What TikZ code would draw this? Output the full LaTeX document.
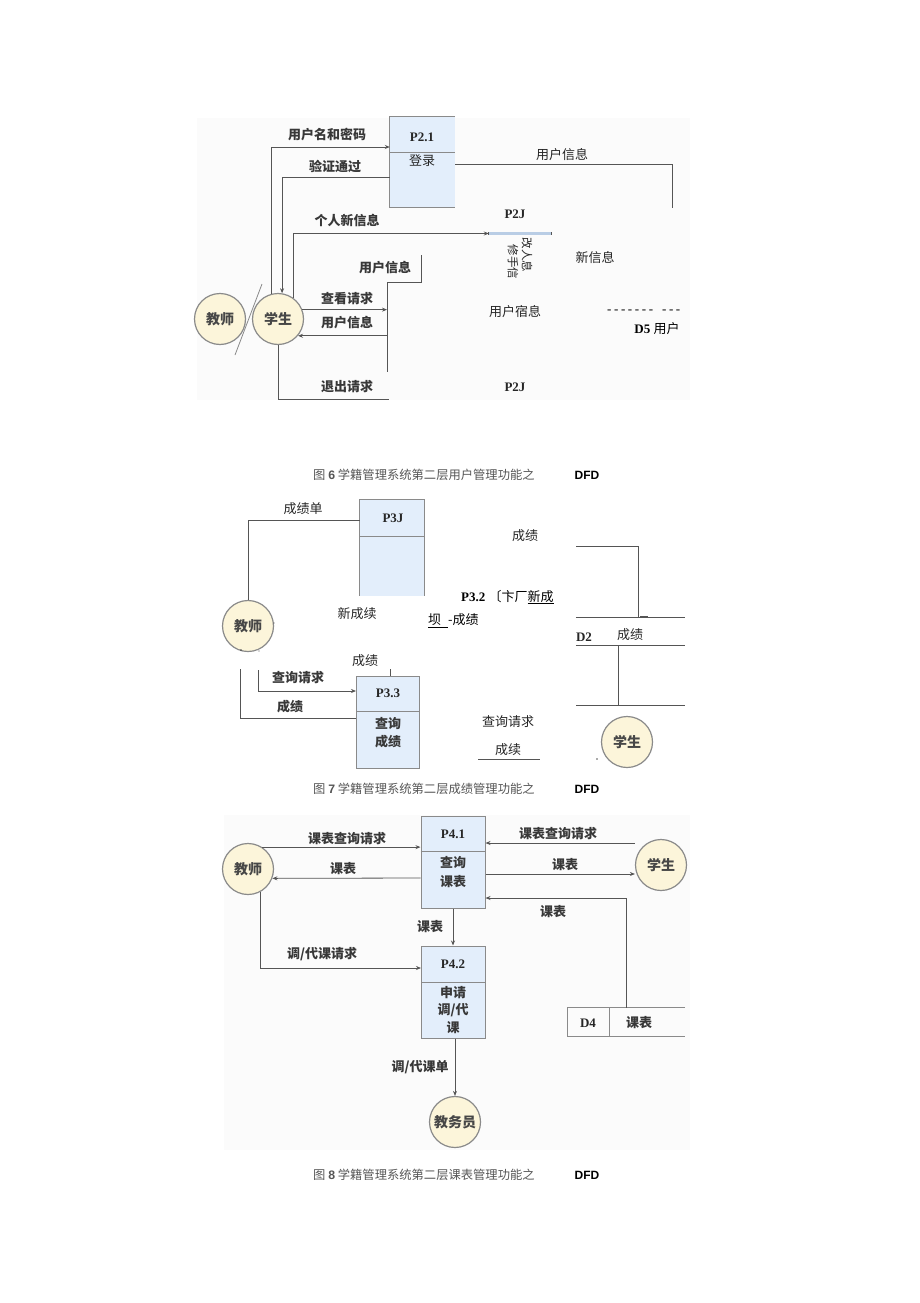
\documentclass[tikz,border=0pt]{standalone}
\usepackage{fontspec}
\setmainfont{Liberation Serif}
\newfontfamily\cjk{Noto Sans CJK SC}
\newfontfamily\arialf{Liberation Sans}
\usetikzlibrary{arrows.meta}
\definecolor{boxfill}{HTML}{E3EEFB}
\definecolor{entfill}{HTML}{FCF5DA}
\definecolor{edgec}{HTML}{8A8A8A}
\definecolor{linec}{HTML}{555555}
\definecolor{bgc}{HTML}{FBFBFB}
\definecolor{capc}{HTML}{555555}
\definecolor{barc}{HTML}{B9CDE5}
\newcommand{\hy}{-\kern2.6pt}
\begin{document}
\begin{tikzpicture}[x=1pt,y=-1pt,
  lab/.style={font=\cjk\fontsize{13}{15}\selectfont, inner sep=0pt, text=black!85},
  blab/.style={font=\cjk\bfseries\fontsize{13}{15}\selectfont, inner sep=0pt, text=black!78},
  pid/.style={font=\bfseries\fontsize{13}{15}\selectfont, inner sep=0pt, text=black!85},
  ent/.style={circle, draw=edgec, fill=entfill, line width=1.2pt, minimum size=51pt, inner sep=0pt,
              font=\cjk\bfseries\fontsize{14}{16}\selectfont, text=black!72},
  procfill/.style={fill=boxfill, inner sep=0pt},
  boxline/.style={draw=edgec, line width=1pt},
  flow/.style={draw=linec, line width=0.8pt, -{Stealth[length=5pt,width=4pt]}},
  plain/.style={draw=linec, line width=0.8pt},
  captxt/.style={font=\cjk\fontsize{12.3}{14}\selectfont, inner sep=0pt, text=capc, anchor=west},
  capd/.style={font=\arialf\bfseries\fontsize{12}{14}\selectfont, inner sep=0pt, text=black}]
\useasboundingbox (0,0) rectangle (920,1303);
\fill[bgc] (197,118) rectangle (690,400);
\fill[bgc] (224,815) rectangle (690,1150);

% ================= Figure 6 =================
\node[ent] (tea6) at (220,319) {教师};
\node[ent] (stu6) at (278,319) {学生};
\coordinate (sl1) at (262,284);
\coordinate (sl2) at (235,355);
\draw[plain, draw=edgec] (sl1) -- (sl2);

\node[procfill, minimum width=65pt, minimum height=90pt] (p21) at (422.5,162) {};
\draw[boxline] (p21.north east) -- (p21.north west) -- (p21.south west) -- (p21.south east);
\coordinate (dv21) at (0,152);
\draw[boxline] (p21.west |- dv21) -- (p21.east |- dv21);
\node[pid] (p21id) at (422,137) {P2.1};
\node[lab] (p21nm) at (422,161) {登录};

\node[inner sep=0pt, minimum width=62pt, minimum height=2.5pt, fill=barc] (p22) at (520,233.5) {};
\draw[draw=linec, line width=0.8pt] (p22.north west) -- (p22.south west) (p22.north east) -- (p22.south east);

\coordinate (y147) at (0,147);
\coordinate (y177) at (0,177);
\coordinate (y164) at (0,164);
\coordinate (e164) at (672,208);
\coordinate (d5a) at (387,282);
\coordinate (d5b) at (387,372);
\coordinate (d5c) at (421,255);
\coordinate (d5d) at (421,282);
\coordinate (ex1) at (389,399);

\draw[flow] (stu6.104) |- (p21.west |- y147);
\draw[flow] (p21.west |- y177) -| (stu6.81);
\draw[flow] (stu6.54) |- (p22.west);
\draw[plain] (p21.east |- y164) -| (e164);
\draw[plain] (d5c) -- (d5d) -- (d5a) -- (d5b);
\draw[flow] (stu6.21) -- (d5a |- stu6.21);
\draw[flow] (d5a |- stu6.-40) -- (stu6.-40);
\draw[plain] (stu6.south) |- (ex1);

\node[blab] (l1) at (327,135) {用户名和密码};
\node[blab] (l2) at (335,166) {验证通过};
\node[blab] (l3) at (347,221) {个人新信息};
\node[blab] (l4) at (385,268) {用户信息};
\node[blab] (l5) at (347,299) {查看请求};
\node[blab] (l6) at (347,323) {用户信息};
\node[blab] (l7) at (347,387) {退出请求};
\node[lab] (l8) at (562,155) {用户信息};
\node[pid] (l9) at (515,214) {P2J};
\node[lab] (l10) at (595,258) {新信息};
\node[lab] (l11) at (515,312) {用户宿息};
\node[pid] (l12) at (515,387) {P2J};
\node[inner sep=0pt, anchor=west, font=\fontsize{13}{15}\selectfont] (l13) at (607,312) {\hy\hy\hy\hy\hy\hy-\hspace{9pt}\hy\hy-};
\node[inner sep=0pt, font=\fontsize{13}{15}\selectfont] (l14) at (657,329) {\textbf{D5} {\cjk 用户}};
\node[lab, rotate=-90, font=\cjk\fontsize{11.5}{13}\selectfont] (l15) at (527,255) {改人息};
\node[lab, rotate=-90, font=\cjk\fontsize{11.5}{13}\selectfont] (l16) at (513,262) {修手信};

\node[captxt] (cap6) at (313,475) {图 {\arialf\bfseries 6} 学籍管理系统第二层用户管理功能之};
\node[capd] (cap6d) at (587,475) {DFD};

% ================= Figure 7 =================
\node[ent] (tea7) at (248,626) {教师};
\node[procfill, minimum width=64pt, minimum height=96pt] (p31) at (392,547.5) {};
\draw[boxline] (p31.south west) -- (p31.north west) -- (p31.north east) -- (p31.south east);
\coordinate (dv31) at (0,536);
\draw[boxline] (p31.west |- dv31) -- (p31.east |- dv31);
\node[pid] (p31id) at (393,518) {P3J};

\coordinate (y520) at (0,520);
\draw[plain] (p31.west |- y520) -| (tea7.north);
\node[lab] (m1) at (303,509) {成绩单};
\node[lab] (m2) at (357,614) {新成续};
\node[inner sep=0pt, anchor=west, font=\fontsize{13}{15}\selectfont] (m3) at (461,597) {\textbf{P3.2} {\cjk 〔卞厂\underline{新成}}};
\node[inner sep=0pt, anchor=west, font=\cjk\fontsize{13}{15}\selectfont] (m4) at (428,621) {\underline{坝\hspace{7pt}}-成绩};
\node[lab] (m5) at (525,536) {成绩};

\coordinate (g1) at (576,546);
\coordinate (g2) at (638,617);
\draw[plain] (g1) -| (g2);
\coordinate (g3) at (640,616);
\coordinate (g4) at (648,616);
\draw[plain, line width=0.6pt] (g3) -- (g4);

\node[inner sep=0pt, minimum width=109pt, minimum height=27pt] (d2) at (630.5,631.5) {};
\draw[plain] (d2.north west) -- (d2.north east) (d2.south west) -- (d2.south east);
\node[pid] (d2id) at (584,637) {D2};
\node[lab] (d2nm) at (630,635) {成绩};
\coordinate (g5) at (576,705);
\coordinate (g6) at (685,705);
\coordinate (g7) at (618,705);
\draw[plain] (g5) -- (g6);
\draw[plain] (d2.south -| g7) -- (g7);

\node[ent] (stu7) at (627,742) {学生};
\fill[linec] (597,759) circle (0.9pt);

\node[lab] (m6) at (508,722) {查询请求};
\node[lab] (m7) at (508,750) {成续};
\coordinate (u1) at (478,759);
\coordinate (u2) at (540,759);
\draw[plain, line width=0.6pt] (u1) -- (u2);

\node[procfill, minimum width=63pt, minimum height=92pt, draw=edgec, line width=1pt] (p33) at (388,722) {};
\coordinate (dv33) at (0,711);
\draw[boxline] (p33.west |- dv33) -- (p33.east |- dv33);
\node[pid] (p33id) at (388,693) {P3.3};
\node[blab] (p33a) at (388,724) {查询};
\node[blab] (p33b) at (388,742) {成绩};
\node[lab] (m8) at (365,661) {成绩};
\coordinate (t1) at (390,669);
\draw[plain, line width=0.6pt] (t1) -- (p33.north -| t1);

\coordinate (q1) at (258,670);
\coordinate (y691) at (0,691);
\draw[flow] (q1) |- (p33.west |- y691);
\node[blab] (m9) at (298,678) {查询请求};
\coordinate (q2) at (240,669);
\coordinate (y718) at (0,718);
\draw[plain] (p33.west |- y718) -| (q2);
\node[blab] (m10) at (290,707) {成绩};
\fill[linec] (241,650) circle (1pt);
\fill[linec] (259,651) circle (0.7pt);
\fill[linec] (274,623) circle (0.7pt);

\node[captxt] (cap7) at (313,789) {图 {\arialf\bfseries 7} 学籍管理系统第二层成绩管理功能之};
\node[capd] (cap7d) at (587,789) {DFD};

% ================= Figure 8 =================
\node[ent] (tea8) at (248,869) {教师};
\node[ent] (stu8) at (661,865) {学生};
\node[ent] (jwy) at (455,1122) {教务员};

\node[procfill, minimum width=64pt, minimum height=92pt, draw=edgec, line width=1pt] (p41) at (453,862) {};
\coordinate (dv41) at (0,851);
\draw[boxline] (p41.west |- dv41) -- (p41.east |- dv41);
\node[pid] (p41id) at (453,834) {P4.1};
\node[blab] (p41a) at (453,863) {查询};
\node[blab] (p41b) at (453,882) {课表};

\node[procfill, minimum width=64pt, minimum height=92pt, draw=edgec, line width=1pt] (p42) at (453.5,992) {};
\coordinate (dv42) at (0,982);
\draw[boxline] (p42.west |- dv42) -- (p42.east |- dv42);
\node[pid] (p42id) at (453,964) {P4.2};
\node[blab] (p42a) at (453,993) {申请};
\node[blab] (p42b) at (453,1010) {调/代};
\node[blab] (p42c) at (453,1028) {课};

\node[inner sep=0pt, minimum width=117pt, minimum height=28pt] (d4) at (626.5,1022) {};
\draw[boxline] (d4.north east) -- (d4.north west) -- (d4.south west) -- (d4.south east);
\coordinate (dv4) at (609,0);
\draw[boxline] (d4.north -| dv4) -- (d4.south -| dv4);
\node[pid] (d4id) at (588,1023) {D4};
\node[blab] (d4nm) at (639,1023) {课表};

\coordinate (y878) at (0,878);
\coordinate (y843) at (0,843);
\coordinate (y874) at (0,874);
\coordinate (y898) at (0,898);
\coordinate (y968) at (0,968);
\draw[flow] (tea8.57) -- (p41.west |- tea8.57);
\draw[flow] (p41.west |- y878) -- (tea8.-21);
\draw[flow] (stu8.west |- y843) -- (p41.east |- y843);
\draw[flow] (p41.east |- y874) -- (stu8.west |- y874);
\draw[flow] (d4.north) |- (p41.east |- y898);
\draw[flow] (p41.south) -- (p42.north -| p41.south);
\draw[flow] (tea8.-61) |- (p42.west |- y968);
\draw[flow] (p42.south -| jwy) -- (jwy.north);

\node[blab] (n1) at (347,839) {课表查询请求};
\node[blab] (n2) at (343,869) {课表};
\node[blab] (n3) at (558,834) {课表查询请求};
\node[blab] (n4) at (565,865) {课表};
\node[blab] (n5) at (553,912) {课表};
\node[blab] (n6) at (430,927) {课表};
\node[blab] (n7) at (322,954) {调/代课请求};
\node[blab] (n8) at (420,1067) {调/代课单};

\node[captxt] (cap8) at (313,1175) {图 {\arialf\bfseries 8} 学籍管理系统第二层课表管理功能之};
\node[capd] (cap8d) at (587,1175) {DFD};
\end{tikzpicture}
\end{document}
